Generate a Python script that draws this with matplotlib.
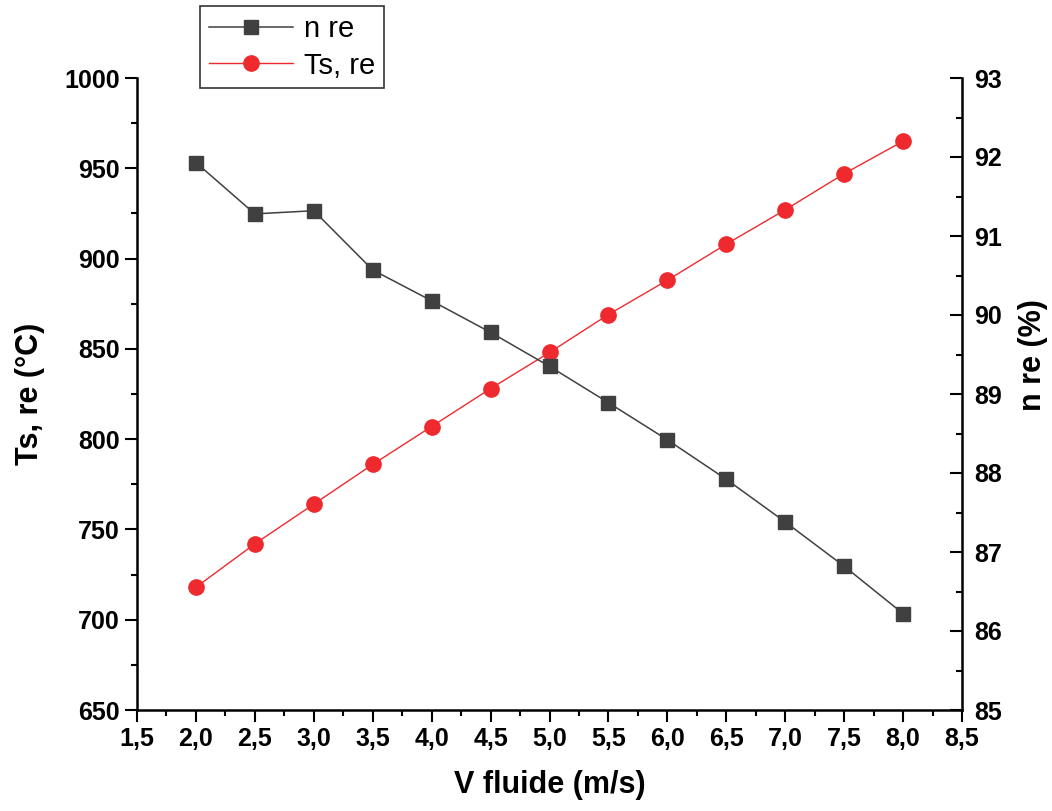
import matplotlib
matplotlib.use("Agg")
import matplotlib.pyplot as plt
from matplotlib.ticker import MultipleLocator, FuncFormatter

plt.rcParams['font.family'] = ['Liberation Sans', 'DejaVu Sans']

# Fluid velocity (m/s)
v_fluide = [2.0, 2.5, 3.0, 3.5, 4.0, 4.5, 5.0, 5.5, 6.0, 6.5, 7.0, 7.5, 8.0]
# Efficiency n re (%)
n_re = [91.93, 91.28, 91.32, 90.57, 90.18, 89.78, 89.35, 88.89,
        88.42, 87.92, 87.38, 86.82, 86.22]
# Outlet temperature Ts, re (°C)
ts_re = [718, 742, 764, 786, 807, 828, 848, 869, 888, 908, 927, 947, 965]

W, H = 1052, 811
fig = plt.figure(figsize=(W / 100, H / 100), dpi=100)
left, right, bottom, top = 137, 962, 710, 78
ax = fig.add_axes([left / W, 1 - bottom / H, (right - left) / W, (bottom - top) / H])
ax2 = ax.twinx()

red = '#EE2A2F'
grey = '#404040'

l_ts, = ax.plot(v_fluide, ts_re, color=red, lw=1.0, marker='o', ms=11,
                mfc=red, mec=red, zorder=3, label='Ts, re')
l_n, = ax2.plot(v_fluide, n_re, color=grey, lw=1.1, marker='s', ms=10,
                mfc=grey, mec=grey, zorder=3, label='n re')

ax.set_xlim(1.5, 8.5)
ax.set_ylim(650, 1000)
ax2.set_ylim(85, 93)

ax.xaxis.set_major_locator(MultipleLocator(0.5))
ax.xaxis.set_minor_locator(MultipleLocator(0.25))
ax.yaxis.set_major_locator(MultipleLocator(50))
ax.yaxis.set_minor_locator(MultipleLocator(25))
ax2.yaxis.set_major_locator(MultipleLocator(1))
ax2.yaxis.set_minor_locator(MultipleLocator(0.5))

ax.xaxis.set_major_formatter(FuncFormatter(lambda x, p: f"{x:.1f}".replace('.', ',')))
ax.yaxis.set_major_formatter(FuncFormatter(lambda y, p: f"{y:.0f}"))
ax2.yaxis.set_major_formatter(FuncFormatter(lambda y, p: f"{y:.0f}"))

for a in (ax, ax2):
    a.spines['top'].set_visible(False)
    for s in a.spines.values():
        s.set_linewidth(1.8)
ax.spines['right'].set_visible(False)
ax2.spines['left'].set_visible(False)
ax2.spines['bottom'].set_visible(False)

tick_font = 18
ax.tick_params(axis='both', which='major', direction='out', length=8.5, width=1.5,
               labelsize=tick_font, pad=4)
ax.tick_params(axis='both', which='minor', direction='out', length=4.3, width=1.5)
ax2.tick_params(axis='y', which='major', direction='in', length=8.5, width=1.5,
                labelsize=tick_font, pad=9)
ax2.tick_params(axis='y', which='minor', direction='in', length=4.3, width=1.5)
for lab in ax.get_xticklabels() + ax.get_yticklabels() + ax2.get_yticklabels():
    lab.set_fontweight('bold')

# Axis titles placed in figure pixels
label_kw = dict(fontsize=22, fontweight='bold', ha='center', va='center')
fig.text(550 / W, 1 - 785 / H, 'V fluide (m/s)', **label_kw)
fig.text(30 / W, 1 - 394 / H, 'Ts, re (°C)', rotation=90, **label_kw)
fig.text(1033 / W, 1 - 355 / H, 'n re (%)', rotation=90, **label_kw)

leg = fig.legend(handles=[l_n, l_ts], loc='upper left',
                 bbox_to_anchor=(200 / W, 1 - 6 / H), fontsize=21,
                 frameon=True, fancybox=False, edgecolor='black',
                 handlelength=2.9, handletextpad=0.35, borderpad=0.3,
                 labelspacing=0.3, borderaxespad=0)
leg.get_frame().set_linewidth(1.2)

fig.savefig('out.png', dpi=100, facecolor='white')
